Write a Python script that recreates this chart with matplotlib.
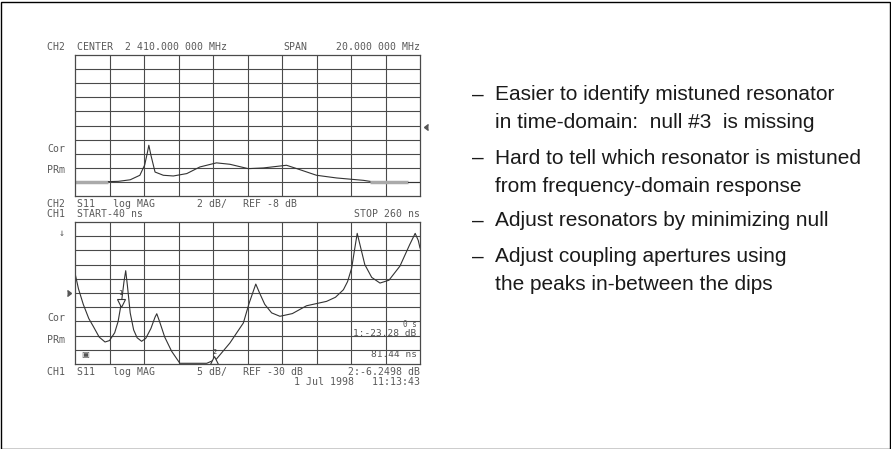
import matplotlib.pyplot as plt
from matplotlib.patches import Rectangle

# upper trace: CH2 S11 log MAG, frequency domain (grid divisions)
freq_x = [0.97, 1.26, 1.6, 1.88, 2.02, 2.1, 2.14, 2.2, 2.32, 2.56, 2.85, 3.24, 3.62,
          4.1, 4.49, 5.02, 5.46, 6.13, 6.43, 7.0, 7.58, 8.36, 8.55]
freq_y = [1.02, 1.04, 1.15, 1.47, 2.2, 3.1, 3.6, 2.9, 1.7, 1.47, 1.42, 1.59, 2.06,
          2.35, 2.25, 1.94, 1.99, 2.18, 1.94, 1.47, 1.28, 1.11, 1.04]
freq_flat_left = [0.0, 0.97]
freq_flat_right = [8.55, 9.66]
freq_tail = [9.66, 10.0]
freq_level = 1.02

# lower trace: CH1 S11 log MAG, time domain (grid divisions)
time_x = [0.0, 0.1, 0.24, 0.4, 0.53, 0.7, 0.87, 1.0, 1.15, 1.25, 1.35, 1.42, 1.47,
          1.52, 1.6, 1.7, 1.8, 1.93, 2.05, 2.2, 2.32, 2.37, 2.45, 2.6, 2.8, 3.04,
          3.82, 4.1, 4.49, 4.88, 5.05, 5.24, 5.35, 5.5, 5.7, 5.94, 6.3, 6.71, 7.29,
          7.55, 7.78, 7.9, 8.02, 8.1, 8.18, 8.25, 8.4, 8.6, 8.84, 9.1, 9.42, 9.7,
          9.86, 9.95, 10.0]
time_y = [6.4, 5.3, 4.2, 3.2, 2.65, 1.9, 1.55, 1.65, 2.2, 3.0, 4.4, 5.8, 6.57,
          5.5, 3.6, 2.4, 1.85, 1.6, 1.8, 2.5, 3.3, 3.54, 3.0, 1.9, 0.9, 0.05,
          0.05, 0.35, 1.48, 2.89, 4.3, 5.63, 5.0, 4.2, 3.6, 3.36, 3.55, 4.1, 4.41,
          4.7, 5.23, 5.8, 6.76, 8.0, 9.2, 8.5, 7.0, 6.1, 5.7, 5.9, 6.9, 8.4,
          9.2, 8.7, 8.17]
marker_x = [1.32, 4.04]
marker_y = [4.3, 0.25]

bullets = [
    ("–", "Easier to identify mistuned resonator"),
    ("", "in time-domain:  null #3  is missing"),
    ("–", "Hard to tell which resonator is mistuned"),
    ("", "from frequency-domain response"),
    ("–", "Adjust resonators by minimizing null"),
    ("–", "Adjust coupling apertures using"),
    ("", "the peaks in-between the dips"),
]
bullet_y = [95, 123, 158, 186, 221, 257, 284]

W, H = 891, 449
fig = plt.figure(figsize=(W / 100, H / 100), dpi=100)
fig.patch.set_facecolor('white')
fig.add_artist(Rectangle((0.5 / W, 0.5 / H), 1 - 2 / W, 1 - 2 / H,
                         transform=fig.transFigure, fill=False, ec='black', lw=1))

def px(x, y):
    return x / W, 1 - y / H

def setup(ax):
    ax.set_xlim(0, 10)
    ax.set_ylim(0, 10)
    for i in range(1, 10):
        ax.axvline(i, color='#4a4a4a', lw=0.8)
        ax.axhline(i, color='#4a4a4a', lw=0.8)
    for s in ax.spines.values():
        s.set_color('#4a4a4a')
        s.set_linewidth(0.9)
    ax.set_xticks([])
    ax.set_yticks([])

ax1 = fig.add_axes([75 / W, 1 - 196 / H, 345 / W, 141 / H])
setup(ax1)
ax1.plot(freq_flat_left, [freq_level] * 2, color='#aaaaaa', lw=2.5, solid_capstyle='butt')
ax1.plot(freq_flat_right, [freq_level] * 2, color='#aaaaaa', lw=2.5, solid_capstyle='butt')
ax1.plot(freq_tail, [freq_level] * 2, color='#333333', lw=0.8)
ax1.plot(freq_x, freq_y, color='#333333', lw=0.8)
ax1.plot([10.12], [4.9], marker=4, color='#555555', ms=4, clip_on=False)

ax2 = fig.add_axes([75 / W, 1 - 364 / H, 345 / W, 142 / H])
setup(ax2)
ax2.plot(time_x, time_y, color='#333333', lw=0.8)
ax2.plot(marker_x[0], marker_y[0], marker='v', mfc='white', mec='#333333', ms=6, mew=0.8)
ax2.text(marker_x[0], marker_y[0] + 0.7, "1", ha='center', va='center', fontsize=5, color='#333333',
         family='DejaVu Sans Mono')
ax2.plot(marker_x[1], marker_y[1], marker='^', mfc='white', mec='#333333', ms=6, mew=0.8)
ax2.text(marker_x[1], marker_y[1] + 0.6, "2", ha='center', va='center', fontsize=5, color='#333333',
         family='DejaVu Sans Mono')
ax2.plot([-0.12], [5.0], marker=5, color='#555555', ms=4, clip_on=False)
ax2.text(9.9, 2.15, "1:-23.28 dB", ha='right', va='center', fontsize=6.8, color='#555555',
         family='DejaVu Sans Mono')
ax2.text(9.9, 2.75, "0 s", ha='right', va='center', fontsize=5.5, color='#555555',
         family='DejaVu Sans Mono')
ax2.text(9.9, 0.7, "81.44 ns", ha='right', va='center', fontsize=6.8, color='#555555',
         family='DejaVu Sans Mono')
ax2.text(0.3, 0.7, "▣", ha='center', va='center', fontsize=6, color='#555555')

mono = dict(fontsize=7.1, color='#5a5a5a', family='DejaVu Sans Mono', va='center')
labels = [
    (47, 47, "CH2  CENTER  2 410.000 000 MHz", 'left'),
    (283, 47, "SPAN", 'left'),
    (420, 47, "20.000 000 MHz", 'right'),
    (47, 149, "Cor", 'left'),
    (47, 170, "PRm", 'left'),
    (47, 204, "CH2  S11", 'left'),
    (113, 204, "log MAG", 'left'),
    (197, 204, "2 dB/", 'left'),
    (243, 204, "REF -8 dB", 'left'),
    (47, 214, "CH1  START-40 ns", 'left'),
    (420, 214, "STOP 260 ns", 'right'),
    (62, 233, "↓", 'center'),
    (47, 318, "Cor", 'left'),
    (47, 340, "PRm", 'left'),
    (47, 372, "CH1  S11", 'left'),
    (113, 372, "log MAG", 'left'),
    (197, 372, "5 dB/", 'left'),
    (243, 372, "REF -30 dB", 'left'),
    (420, 372, "2:-6.2498 dB", 'right'),
    (420, 382, "1 Jul 1998   11:13:43", 'right'),
]
for x, y, s, ha in labels:
    fx, fy = px(x, y)
    fig.text(fx, fy, s, ha=ha, **mono)

sans = ['Liberation Sans Narrow', 'Liberation Sans', 'DejaVu Sans']
for (dash, line), y in zip(bullets, bullet_y):
    fx, fy = px(495, y)
    fig.text(fx, fy, line, ha='left', va='center', fontsize=15, family=sans, color='#1a1a1a')
    if dash:
        dx, dy = px(472, y)
        fig.text(dx, dy, dash, ha='left', va='center', fontsize=15, family=sans, color='#1a1a1a')

fig.savefig('out.png', dpi=100)
